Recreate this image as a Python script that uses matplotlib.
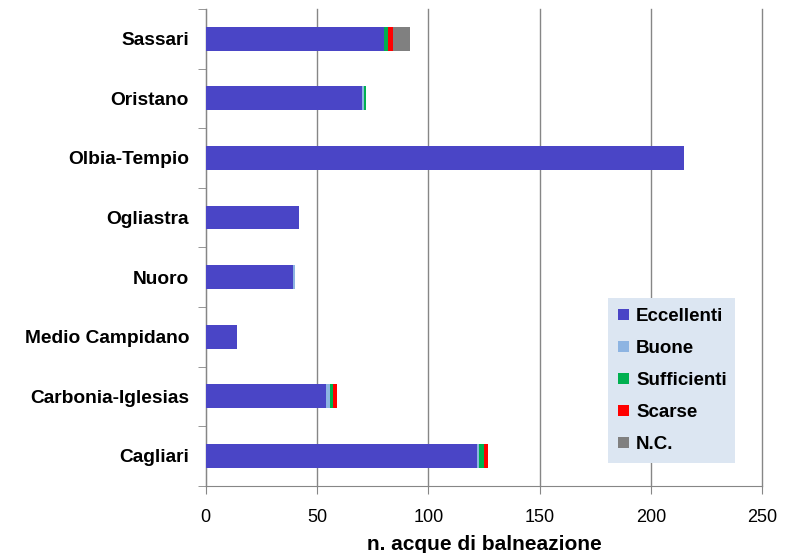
import matplotlib.pyplot as plt
import numpy as np

plt.rcParams['font.family'] = ['Liberation Sans', 'DejaVu Sans']

province = ['Cagliari', 'Carbonia-Iglesias', 'Medio Campidano', 'Nuoro',
            'Ogliastra', 'Olbia-Tempio', 'Oristano', 'Sassari']
eccellenti = [122, 54, 14, 39, 42, 215, 70, 80]
buone = [1, 2, 0, 1, 0, 0, 1, 0]
sufficienti = [2, 1, 0, 0, 0, 0, 1, 2]
scarse = [2, 2, 0, 0, 0, 0, 0, 2]
nc = [0, 0, 0, 0, 0, 0, 0, 8]

series = [('Eccellenti', eccellenti, '#4a45c6'),
          ('Buone', buone, '#8db4e2'),
          ('Sufficienti', sufficienti, '#00b050'),
          ('Scarse', scarse, '#ff0000'),
          ('N.C.', nc, '#808080')]

fig = plt.figure(figsize=(7.98, 5.53), dpi=100)
ax = fig.add_axes([0.2578, 0.1217, 0.6972, 0.862])

y = np.arange(len(province))
left = np.zeros(len(province))
for name, vals, col in series:
    ax.barh(y, vals, left=left, height=0.4, color=col, label=name, zorder=3)
    left += np.array(vals)

ax.set_xlim(0, 250)
ax.set_ylim(-0.5, len(province) - 0.5)
ax.set_xticks(np.arange(0, 251, 50))
ax.grid(axis='x', color='#868686', linewidth=1, zorder=0)
for gl in ax.get_xgridlines():
    gl.set_clip_on(False)

ax.set_yticks(y)
ax.set_yticklabels(province, fontsize=13.8, fontweight='bold')
ax.set_yticks(np.arange(-0.5, len(province), 1), minor=True)
ax.tick_params(axis='y', which='major', length=0, pad=12)
ax.tick_params(axis='y', which='minor', length=6, color='#868686')
ax.tick_params(axis='x', length=6, color='#868686', labelsize=13, pad=11)

for s in ['top', 'right']:
    ax.spines[s].set_visible(False)
for s in ['left', 'bottom']:
    ax.spines[s].set_color('#868686')

ax.set_xlabel('n. acque di balneazione', fontsize=15, fontweight='bold', labelpad=6)

handles, labels = ax.get_legend_handles_labels()
leg = ax.legend(handles, labels, loc='lower left', bbox_to_anchor=(0.723, 0.047, 0.229, 0.343),
                mode='expand', frameon=True, fancybox=False, borderaxespad=0,
                prop={'size': 13.5, 'weight': 'bold'}, handlelength=0.55, handleheight=0.55,
                handletextpad=0.4, labelspacing=0.8, borderpad=0.55)
leg.get_frame().set_facecolor('#dce6f2')
leg.get_frame().set_edgecolor('none')
leg.get_frame().set_alpha(1)
leg.set_zorder(5)

fig.savefig('out.png', dpi=100)
